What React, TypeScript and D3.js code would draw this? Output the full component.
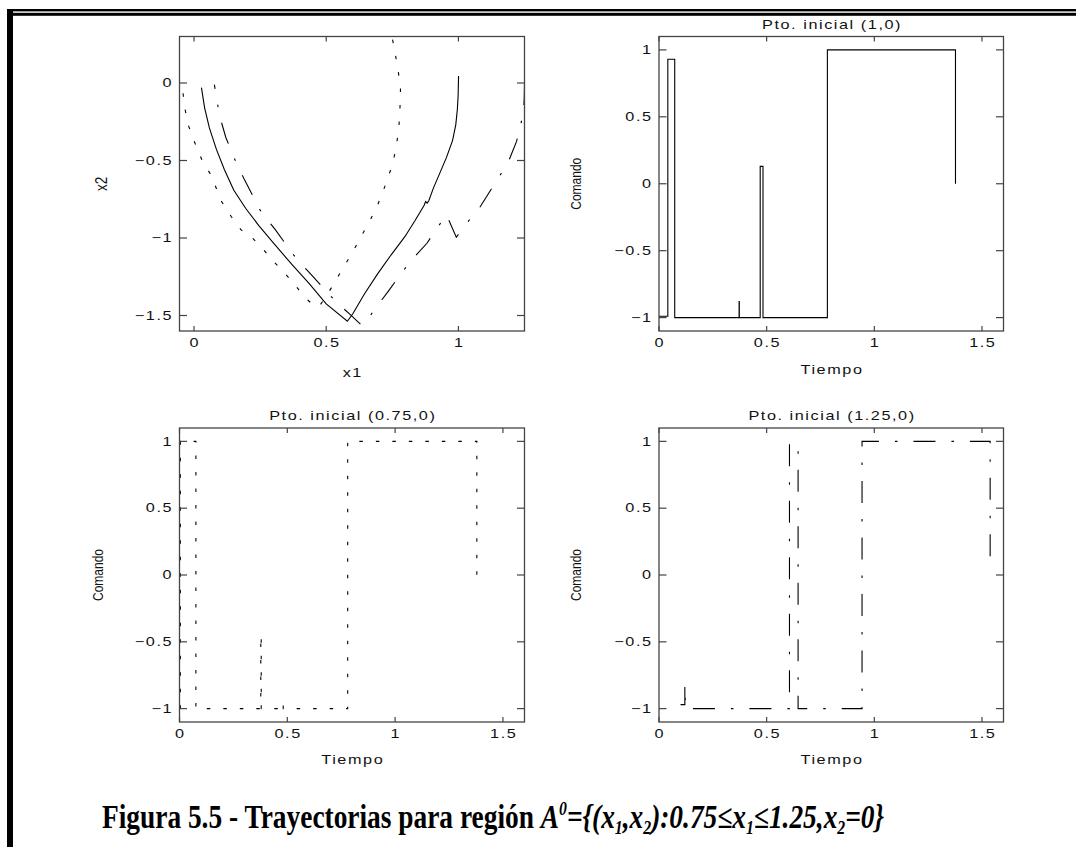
import React from 'react'
import * as d3 from 'd3'

// phase plane trajectories (x1, x2), one per initial point
const x1Dot = [0.751, 0.762, 0.772, 0.781, 0.779, 0.775, 0.766, 0.752, 0.728, 0.697, 0.665, 0.632, 0.597, 0.559, 0.52, 0.49, 0.472, 0.45, 0.423, 0.38, 0.345, 0.3, 0.26, 0.215, 0.178, 0.14, 0.1, 0.067, 0.035, 0.004, -0.02, -0.034, -0.045]
const x2Dot = [0.28, 0.18, 0.08, -0.03, -0.16, -0.28, -0.4, -0.517, -0.64, -0.776, -0.89, -0.99, -1.1, -1.207, -1.32, -1.4, -1.445, -1.43, -1.39, -1.3, -1.23, -1.15, -1.07, -0.99, -0.948, -0.86, -0.754, -0.6, -0.517, -0.39, -0.28, -0.17, -0.02]

const x1Sol = [1.0, 0.9995, 1.0005, 0.999, 0.996, 0.99, 0.978, 0.955, 0.93, 0.905, 0.888, 0.882, 0.876, 0.87, 0.835, 0.798, 0.745, 0.695, 0.645, 0.6, 0.58, 0.5, 0.435, 0.37, 0.304, 0.245, 0.195, 0.15, 0.115, 0.085, 0.058, 0.04, 0.028]
const x2Sol = [0.0, -0.04, 0.045, -0.08, -0.17, -0.27, -0.37, -0.48, -0.58, -0.68, -0.76, -0.775, -0.765, -0.79, -0.89, -0.99, -1.11, -1.23, -1.36, -1.49, -1.537, -1.425, -1.293, -1.17, -1.04, -0.92, -0.808, -0.69, -0.56, -0.43, -0.29, -0.16, -0.03]

const x1DashDot = [1.25, 1.249, 1.246, 1.22, 1.187, 1.142, 1.083, 1.031, 0.992, 0.955, 0.914, 0.881, 0.823, 0.784, 0.738, 0.686, 0.647, 0.635, 0.588, 0.536, 0.445, 0.386, 0.308, 0.25, 0.191, 0.152, 0.12, 0.098, 0.085, 0.077]
const x2DashDot = [0.0, -0.1, -0.194, -0.377, -0.517, -0.636, -0.797, -0.905, -0.995, -0.851, -0.948, -1.034, -1.142, -1.228, -1.336, -1.454, -1.547, -1.565, -1.49, -1.41, -1.239, -1.131, -0.948, -0.82, -0.625, -0.485, -0.35, -0.22, -0.1, -0.01]

// command vs time
const tSol = [0, 0.041, 0.041, 0.073, 0.073, 0.372, 0.372, 0.373, 0.373, 0.47, 0.47, 0.483, 0.483, 0.782, 0.782, 1.377, 1.377]
const uSol = [-0.99, -0.99, 0.93, 0.93, -1, -1, -0.88, -0.88, -1, -1, 0.13, 0.13, -1, -1, 1, 1, 0]

const tDot = [0.004, 0.004, 0.076, 0.076, 0.377, 0.377, 0.379, 0.379, 0.479, 0.479, 0.481, 0.481, 0.78, 0.78, 1.379, 1.379]
const uDot = [-1, 1, 1, -1, -1, -0.45, -0.45, -1, -1, -0.96, -0.96, -1, -1, 1, 1, 0]

const tDashDot = [0.1, 0.12, 0.12, 0.122, 0.122, 0.606, 0.606, 0.646, 0.646, 0.943, 0.943, 1.538, 1.538]
const uDashDot = [-0.97, -0.97, -0.82, -0.82, -1, -1, 0.98, 0.98, -1, -1, 1, 1, 0.03]

const phaseXTicks = [0, 0.5, 1]
const phaseYTicks = [0, -0.5, -1, -1.5]
const timeTicks = [0, 0.5, 1, 1.5]
const cmdTicks = [1, 0.5, 0, -0.5, -1]

const titles = ['Pto. inicial (1,0)', 'Pto. inicial (0.75,0)', 'Pto. inicial (1.25,0)']

const DOTTED = '3.5 13'
const DASHDOT = '22 16 2.5 16'

// plot text is horizontally stretched in the original
const LS = 1.2
const SX = 1.3
const FS = 12.5

const fmt = (v) => (v < 0 ? '\u2212' + Math.abs(v) : String(v))

class Figure extends React.Component {
  node = null

  componentDidMount() {
    this.visualize()
  }

  componentDidUpdate() {
    this.visualize()
  }

  visualize() {
    const svg = d3.select(this.node)
    svg.selectAll('*').remove()

    svg.append('rect').attr('width', 1076).attr('height', 847).attr('fill', '#fff')

    // page frame
    svg.append('rect').attr('x', 7).attr('y', 9).attr('width', 1069).attr('height', 2.4).attr('fill', '#000')
    svg.append('rect').attr('x', 7).attr('y', 12.8).attr('width', 1069).attr('height', 3).attr('fill', '#000')
    svg.append('rect').attr('x', 7).attr('y', 9).attr('width', 6).attr('height', 838).attr('fill', '#000')

    const hText = (g, x, y, str, anchor) => {
      const shift = anchor === 'middle' ? LS / 2 : anchor === 'end' ? LS : 0
      g.append('text')
        .attr('transform', `translate(${x},${y}) scale(${SX},1)`)
        .attr('x', shift)
        .attr('text-anchor', anchor)
        .attr('font-family', 'Liberation Sans, Arial, sans-serif')
        .attr('font-size', FS)
        .attr('letter-spacing', LS)
        .attr('fill', '#111')
        .text(str)
    }

    const vText = (g, x, y, str, size) => {
      g.append('text')
        .attr('transform', `translate(${x},${y}) scale(1.2,1) rotate(-90)`)
        .attr('text-anchor', 'middle')
        .attr('font-family', 'Liberation Sans, Arial, sans-serif')
        .attr('font-size', size)
        .attr('fill', '#111')
        .text(str)
    }

    const cols = [[179.5, 524.5], [659, 1003.5]]
    const rows = [[36.5, 331], [428, 722]]

    const panels = [
      {
        col: 0, row: 0, xDomain: [-0.055, 1.25], yDomain: [-1.6, 0.3],
        xTicks: phaseXTicks, yTicks: phaseYTicks,
        title: null, xLabel: 'x1', xLabelDy: 46, yLabel: 'x2', yLabelDx: 73, yLabelSize: 13.5,
        series: [
          { xs: x1Dot, ys: x2Dot, dash: DOTTED },
          { xs: x1Sol, ys: x2Sol, dash: null },
          { xs: x1DashDot, ys: x2DashDot, dash: DASHDOT },
        ],
      },
      {
        col: 1, row: 0, xDomain: [0, 1.6], yDomain: [-1.1, 1.1],
        xTicks: timeTicks, yTicks: cmdTicks,
        title: titles[0], xLabel: 'Tiempo', xLabelDy: 43, yLabel: 'Comando', yLabelDx: 78, yLabelSize: 12,
        series: [{ xs: tSol, ys: uSol, dash: null }],
      },
      {
        col: 0, row: 1, xDomain: [0, 1.6], yDomain: [-1.1, 1.1],
        xTicks: timeTicks, yTicks: cmdTicks,
        title: titles[1], xLabel: 'Tiempo', xLabelDy: 42, yLabel: 'Comando', yLabelDx: 77, yLabelSize: 12,
        series: [{ xs: tDot, ys: uDot, dash: DOTTED }],
      },
      {
        col: 1, row: 1, xDomain: [0, 1.6], yDomain: [-1.1, 1.1],
        xTicks: timeTicks, yTicks: cmdTicks,
        title: titles[2], xLabel: 'Tiempo', xLabelDy: 42, yLabel: 'Comando', yLabelDx: 78, yLabelSize: 12,
        series: [{ xs: tDashDot, ys: uDashDot, dash: DASHDOT }],
      },
    ]

    panels.forEach((p) => {
      const [left, right] = cols[p.col]
      const [top, bottom] = rows[p.row]
      const x = d3.scaleLinear().domain(p.xDomain).range([left, right])
      const y = d3.scaleLinear().domain(p.yDomain).range([bottom, top])
      const g = svg.append('g')

      p.series.forEach((s) => {
        const line = d3.line()
          .x((d, i) => x(s.xs[i]))
          .y((d, i) => y(s.ys[i]))
        g.append('path')
          .attr('d', line(s.xs))
          .attr('fill', 'none')
          .attr('stroke', '#000')
          .attr('stroke-width', 1.1)
          .attr('stroke-dasharray', s.dash)
      })

      p.xTicks.forEach((v) => {
        g.append('line').attr('x1', x(v)).attr('x2', x(v)).attr('y1', bottom).attr('y2', bottom - 5)
          .attr('stroke', '#444').attr('stroke-width', 1.2)
        g.append('line').attr('x1', x(v)).attr('x2', x(v)).attr('y1', top).attr('y2', top + 5)
          .attr('stroke', '#444').attr('stroke-width', 1.2)
        hText(g, x(v), bottom + 15.5, fmt(v), 'middle')
      })

      p.yTicks.forEach((v) => {
        g.append('line').attr('x1', left).attr('x2', left + 7.5).attr('y1', y(v)).attr('y2', y(v))
          .attr('stroke', '#444').attr('stroke-width', 1.2)
        g.append('line').attr('x1', right).attr('x2', right - 7.5).attr('y1', y(v)).attr('y2', y(v))
          .attr('stroke', '#444').attr('stroke-width', 1.2)
        hText(g, left - 8, y(v) + 4.3, fmt(v), 'end')
      })

      g.append('rect')
        .attr('x', left).attr('y', top)
        .attr('width', right - left).attr('height', bottom - top)
        .attr('fill', 'none').attr('stroke', '#444').attr('stroke-width', 1.3)

      if (p.title) hText(g, (left + right) / 2, top - 8, p.title, 'middle')
      hText(g, (left + right) / 2, bottom + p.xLabelDy, p.xLabel, 'middle')
      vText(g, left - p.yLabelDx, (top + bottom) / 2, p.yLabel, p.yLabelSize)
    })

    // caption
    const cap = svg.append('text')
      .attr('transform', 'translate(102,828) scale(0.83,1)')
      .attr('font-family', 'Liberation Serif, Times New Roman, serif')
      .attr('font-weight', 'bold')
      .attr('font-size', 33)
      .attr('fill', '#000')
    cap.append('tspan').text('Figura 5.5 - Trayectorias para región ')
    const it = (str) => cap.append('tspan').attr('font-style', 'italic').text(str)
    const sub = (str) => {
      cap.append('tspan').attr('font-style', 'italic').attr('font-size', 19).attr('dy', 6).text(str)
    }
    const back = (str, dy) => cap.append('tspan').attr('font-style', 'italic').attr('dy', dy).text(str)
    it('A')
    cap.append('tspan').attr('font-style', 'italic').attr('font-size', 19).attr('dy', -13).text('0')
    back('={(x', 13)
    sub('1')
    back(',x', -6)
    sub('2')
    back('):0.75\u2264x', -6)
    sub('1')
    back('\u22641.25,x', -6)
    sub('2')
    back('=0}', -6)
  }

  render() {
    return (
      <svg
        ref={(node) => (this.node = node)}
        width={1076}
        height={847}
        style={{ position: 'absolute', left: 0, top: 0 }}
      />
    )
  }
}

export default function App() {
  return <Figure />
}
